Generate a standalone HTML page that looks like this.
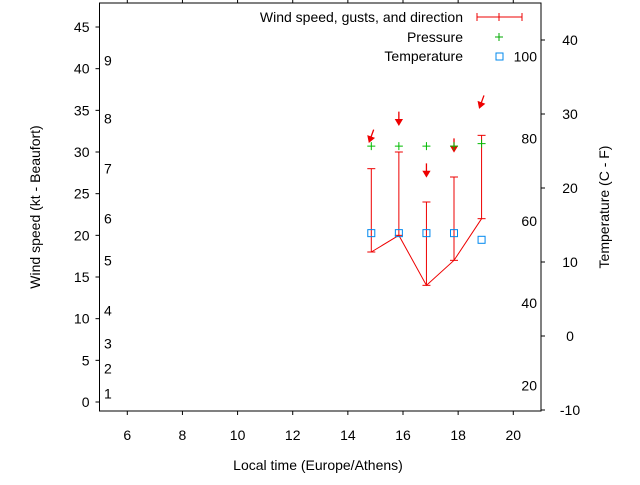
<!DOCTYPE html>
<html><head><meta charset="utf-8"><style>
body{margin:0;background:#fff}
text{font-family:"Liberation Sans",sans-serif;font-size:14px;fill:#000}
</style></head><body>
<svg id="chart" width="640" height="480" xmlns="http://www.w3.org/2000/svg">
<g id="g"></g>
</svg>
<script>
const times=[14.85,15.85,16.85,17.85,18.85];
const windSpeed=[18,20,14,17,22];
const gusts=[28,30,24,27,32];
const pressure=[30.7,30.7,30.7,30.7,31.0];
const temperature=[13.9,13.9,13.9,13.9,13.0];
const dirPos=[31.9,34,27.8,30.8,36];
const dirAngle=[20,0,0,0,20];
const xTicks=[6,8,10,12,14,16,18,20];
const yTicks=[0,5,10,15,20,25,30,35,40,45];
const tTicks=[-10,0,10,20,30,40];
const fTicks=[20,40,60,80,100];
const bftNum=[1,2,3,4,5,6,7,8,9];
const bftKt=[1,4,7,11,17,22,28,34,41];

const L=99.5,R=541,T=3,B=411;
const X=t=>127.3+(t-6)*27.57;
const Y=v=>402-v*8.333;
const TY=c=>410-(c+10)*7.4;
const NS="http://www.w3.org/2000/svg";
const g=document.getElementById('g');
function el(tag,attrs,name,txt){const e=document.createElementNS(NS,tag);for(const k in attrs)e.setAttribute(k,attrs[k]);


if(txt!==undefined)e.textContent=txt;g.appendChild(e);return e;}
el('rect',{x:L,y:T,width:R-L,height:B-T,fill:'none',stroke:'#000','stroke-width':1},'plot-frame');
xTicks.forEach(t=>{const x=X(t);
el('line',{x1:x,y1:B,x2:x,y2:B+4,stroke:'#000'},'x-tick');
el('line',{x1:x,y1:T,x2:x,y2:T-4,stroke:'#000'},'x-tick-top');
el('text',{x:x,y:B+29,'text-anchor':'middle'},'x-tick-label',t);});
yTicks.forEach(v=>{const y=Y(v);
el('line',{x1:L-4,y1:y,x2:L,y2:y,stroke:'#000'},'y-tick');
el('text',{x:L-10,y:y+5,'text-anchor':'end'},'y-tick-label',v);});
tTicks.forEach(c=>{const y=TY(c);
el('line',{x1:R,y1:y,x2:R+4,y2:y,stroke:'#000'},'temp-tick');
el('text',{x:R+29,y:y+5,'text-anchor':'middle'},'temp-tick-label',c);});
fTicks.forEach(f=>{const c=(f-32)*5/9;
el('text',{x:R-4,y:TY(c)+5,'text-anchor':'end'},'fahrenheit-label',f);});
bftNum.forEach((n,i)=>{el('text',{x:104,y:Y(bftKt[i])+5},'beaufort-label',n);});
el('text',{x:318,y:470,'text-anchor':'middle'},'x-axis-title','Local time (Europe/Athens)');
el('text',{x:0,y:0,'text-anchor':'middle',transform:'translate(40,207) rotate(-90)'},'y-axis-title','Wind speed (kt - Beaufort)');
el('text',{x:0,y:0,'text-anchor':'middle',transform:'translate(609,207) rotate(-90)'},'y2-axis-title','Temperature (C - F)');
el('text',{x:463,y:22,'text-anchor':'end'},'legend-wind','Wind speed, gusts, and direction');
el('line',{x1:477,y1:17,x2:522,y2:17,stroke:'#e00'},'legend-wind-line');
[477,499,522].forEach(x=>el('line',{x1:x,y1:13,x2:x,y2:21,stroke:'#e00'},'legend-wind-cap'));
el('text',{x:463,y:42,'text-anchor':'end'},'legend-pressure','Pressure');
el('path',{d:'M495,37h8M499,33v8',stroke:'#0a0'},'legend-pressure-mark');
el('text',{x:463,y:61,'text-anchor':'end'},'legend-temperature','Temperature');
el('rect',{x:496,y:53,width:7,height:7,fill:'none',stroke:'#08e'},'legend-temperature-mark');
el('polyline',{points:times.map((t,i)=>X(t)+','+Y(windSpeed[i])).join(' '),fill:'none',stroke:'#e00'},'wind-speed-line');
times.forEach((t,i)=>{const x=X(t);
el('line',{x1:x,y1:Y(windSpeed[i]),x2:x,y2:Y(gusts[i]),stroke:'#e00'},'gust-bar');
el('line',{x1:x-4,y1:Y(gusts[i]),x2:x+4,y2:Y(gusts[i]),stroke:'#e00'},'gust-cap');
el('line',{x1:x-4,y1:Y(windSpeed[i]),x2:x+4,y2:Y(windSpeed[i]),stroke:'#e00'},'wind-cap');
const y=Y(dirPos[i]);
el('path',{d:`M0,-7V5M-3,1L0,6L3,1Z`,stroke:'#e00',fill:'#e00','stroke-width':1.3,transform:`translate(${x},${y}) rotate(${dirAngle[i]})`},'wind-direction-arrow');
el('path',{d:`M${x-4},${Y(pressure[i])}h8M${x},${Y(pressure[i])-4}v8`,stroke:'#0b0'},'pressure-point');
el('rect',{x:x-3.5,y:TY(temperature[i])-3.5,width:7,height:7,fill:'none',stroke:'#08e'},'temperature-point');
});
</script>
</body></html>
